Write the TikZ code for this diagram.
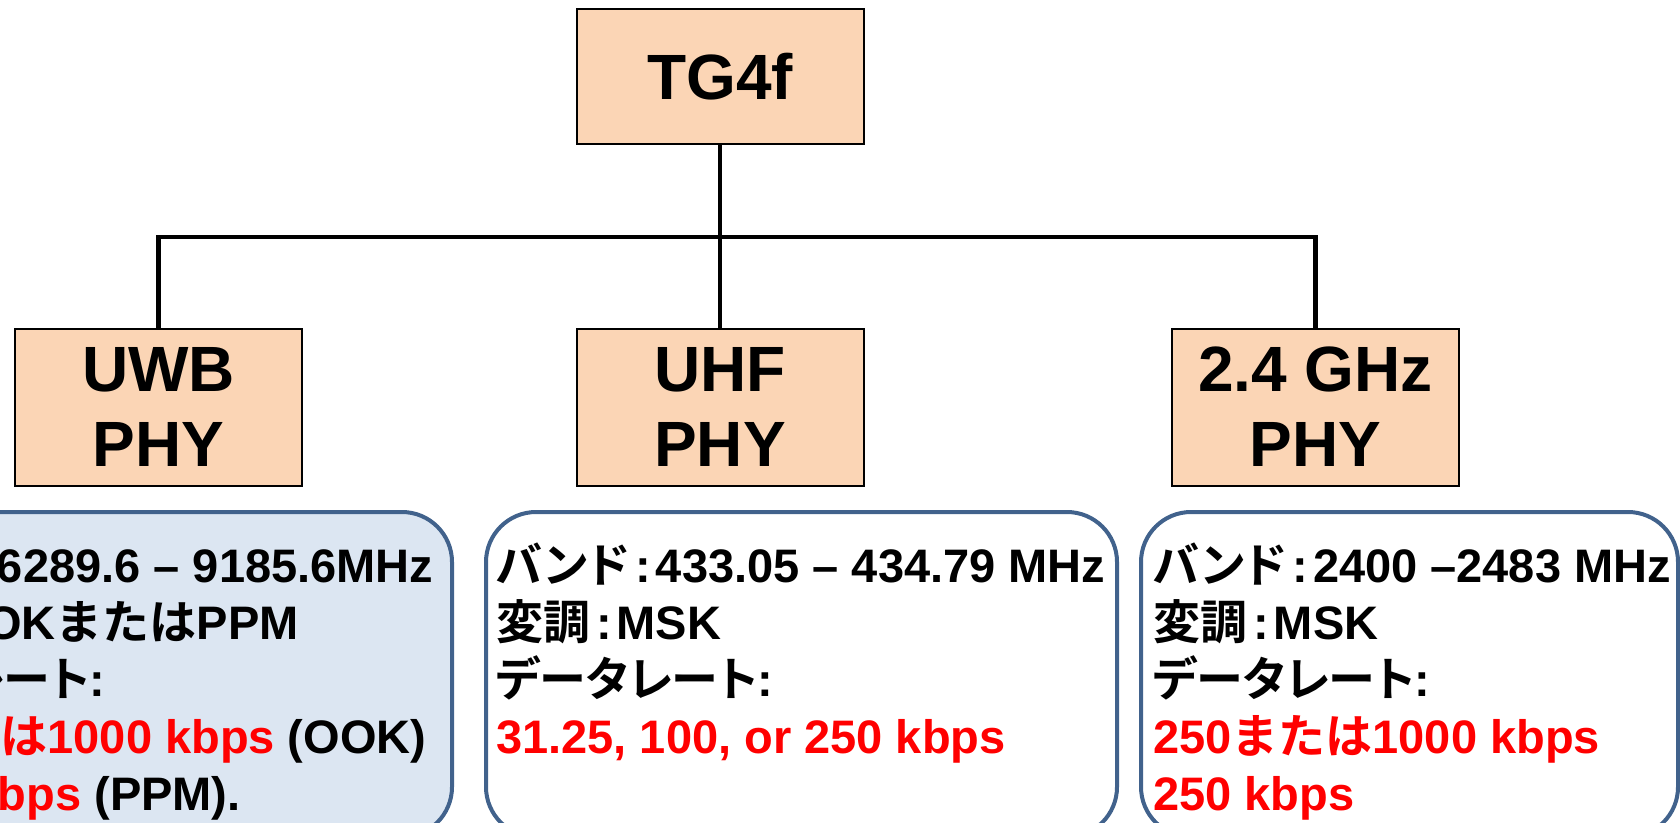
\documentclass[tikz,border=0pt]{standalone}
\usepackage{fontspec}
\setmainfont{Liberation Sans}
\newfontfamily\jpfont{Noto Sans CJK JP}[BoldFont={Noto Sans CJK JP Bold},RawFeature=+palt]
\newfontfamily\jpwide{Noto Sans CJK JP}[BoldFont={Noto Sans CJK JP Bold}]
\newcommand{\J}[1]{{\jpfont\bfseries #1}}
\newcommand{\JW}[1]{{\jpwide\bfseries #1}}
\definecolor{peach}{HTML}{FBD5B5}
\definecolor{steel}{HTML}{41628C}
\definecolor{paleblue}{HTML}{DCE6F2}
\definecolor{hired}{HTML}{FF0000}
\newcommand{\R}[1]{\textcolor{hired}{#1}}
\begin{document}
\begin{tikzpicture}[x=1pt,y=-1pt,
  phybox/.style={draw=black, line width=2pt, fill=peach, minimum width=287pt,
    minimum height=157pt, inner sep=0pt, align=center,
    font=\fontsize{64}{75}\selectfont\bfseries},
  conn/.style={draw=black, line width=4.5pt},
  infobox/.style={draw=steel, line width=4pt, rounded corners=50pt,
    minimum height=325pt, inner sep=0pt, anchor=north west},
  infotext/.style={anchor=north west, inner sep=0pt, align=left,
    font=\fontsize{47}{57}\selectfont\bfseries}]
\useasboundingbox (0,0) rectangle (1680,822);
\begin{scope}
\clip (0,0) rectangle (1680,822);
% top and PHY boxes
\node[phybox, minimum height=135pt] (tg) at (720,76.5) {TG4f};
\node[phybox] (uwb) at (158.5,407) {UWB\\PHY};
\node[phybox] (uhf) at (720,407) {UHF\\PHY};
\node[phybox] (ghz) at (1315.5,407) {2.4 GHz\\PHY};
% connectors
\coordinate (hub) at (720,237);
\coordinate (barL) at (158.5,237);
\coordinate (barR) at (1315.5,237);
\draw[conn] (tg.south) -- (hub);
\draw[conn, line cap=rect] (barL) -- (barR);
\draw[conn] (barL) -- (uwb.north);
\draw[conn] (hub) -- (uhf.north);
\draw[conn] (barR) -- (ghz.north);
% info boxes
\node[infobox, fill=paleblue, minimum width=640pt] (uwbinfo) at (-190,510) {};
\node[infobox, fill=white, minimum width=631pt] (uhfinfo) at (484,510) {};
\node[infobox, fill=white, minimum width=537pt] (ghzinfo) at (1139,510) {};
% info texts
\node[infotext] (uwbtext) at (-172,540) {\rule{0pt}{42pt}\J{バンド}\kern6pt:\kern14pt 6289.6 – 9185.6MHz\\
\J{変調}\kern6pt:\kern5pt OOK\JW{または}PPM\\
\J{データレート}:\\
\R{250\JW{または}1000 kbps} (OOK)\\
\hspace*{52pt}\R{250 kbps} (PPM).};
\node[infotext] (uhftext) at (496,540) {\rule{0pt}{42pt}\J{バンド}\kern6pt:\kern5pt 433.05 – 434.79 MHz\\
\J{変調}\kern6pt:\kern5pt MSK\\
\J{データレート}:\\
\R{31.25, 100, or 250 kbps}};
\node[infotext] (ghztext) at (1153,540) {\rule{0pt}{42pt}\J{バンド}\kern6pt:\kern5pt 2400 –2483 MHz\\
\J{変調}\kern6pt:\kern5pt MSK\\
\J{データレート}:\\
\R{250\JW{または}1000 kbps}\\
\R{250 kbps}};
\end{scope}
\end{tikzpicture}
\end{document}
